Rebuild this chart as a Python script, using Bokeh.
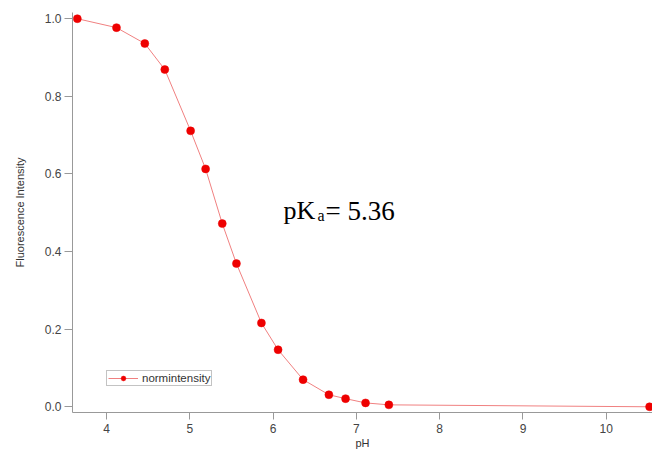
from bokeh.plotting import figure
from bokeh.models import Range1d, FixedTicker, Label, Legend, LegendItem
from bokeh.embed import file_html
from bokeh.resources import INLINE

ph = [3.65, 4.12, 4.46, 4.70, 5.01, 5.19, 5.39, 5.56, 5.86, 6.06, 6.36, 6.67, 6.87, 7.11, 7.39, 10.52]
normintensity = [1.0, 0.977, 0.936, 0.869, 0.711, 0.613, 0.472, 0.369, 0.216, 0.147, 0.070, 0.031, 0.021, 0.010, 0.005, 0.0]
x_ticks = [4, 5, 6, 7, 8, 9, 10]
y_ticks = [0.0, 0.2, 0.4, 0.6, 0.8, 1.0]

FONT = "Liberation Sans"

p = figure(width=652, height=451, output_backend="svg", toolbar_location=None,
           x_range=Range1d(3.592, 10.555), y_range=Range1d(-0.0147, 1.016),
           min_border_left=72, min_border_right=0, min_border_top=12, min_border_bottom=39)
p.outline_line_color = None
p.grid.visible = False
p.background_fill_color = "white"

line = p.line(ph, normintensity, line_color="#f08080", line_width=1)
pts = p.scatter(ph, normintensity, size=8, fill_color="#ee0000", line_color="#ee0000", line_width=0.5)

for ax in (p.xaxis[0], p.yaxis[0]):
    ax.axis_line_color = "#999999"
    ax.major_tick_line_color = "#999999"
    ax.minor_tick_line_color = None
    ax.major_tick_in = 0
    ax.major_tick_out = 7
    ax.major_label_text_font = FONT
    ax.major_label_text_font_size = "12px"
    ax.major_label_text_color = "#444444"
    ax.axis_label_text_font = FONT
    ax.axis_label_text_font_size = "11px"
    ax.axis_label_text_font_style = "normal"
    ax.axis_label_text_color = "#333333"

p.xaxis.ticker = FixedTicker(ticks=x_ticks)
p.yaxis.ticker = FixedTicker(ticks=y_ticks)
p.yaxis.major_label_overrides = {v: f"{v:.1f}" for v in y_ticks}
p.yaxis.major_tick_out = 8
p.yaxis.major_label_standoff = 3
p.yaxis.axis_label_standoff = 16
p.xaxis.major_label_standoff = 4
p.xaxis.axis_label_standoff = 1
p.xaxis.axis_label = "pH"
p.yaxis.axis_label = "Fluorescence Intensity"

legend = Legend(items=[LegendItem(label="normintensity", renderers=[line, pts])],
                location=(34, 26), label_text_font=FONT, label_text_font_size="11.5px",
                label_text_color="#333333", glyph_width=30, glyph_height=12,
                padding=1, margin=0, label_standoff=4, label_height=12,
                border_line_color="#888888", border_line_width=1,
                background_fill_color="white", background_fill_alpha=1.0)
p.add_layout(legend)

p.add_layout(Label(x=6.125, y=0.4866, y_offset=7, text="pK", text_font="Liberation Serif",
                   text_font_size="26px", text_color="black", text_baseline="alphabetic"))
p.add_layout(Label(x=6.125, y=0.4866, x_offset=34, y_offset=2, text="a", text_font="Liberation Serif",
                   text_font_size="16px", text_color="black", text_baseline="alphabetic"))
p.add_layout(Label(x=6.125, y=0.4866, x_offset=42, y_offset=7, text="= 5.36", text_font="Liberation Serif",
                   text_font_size="27px", text_color="black", text_baseline="alphabetic"))

open("out.html", "w").write(file_html(p, INLINE))
